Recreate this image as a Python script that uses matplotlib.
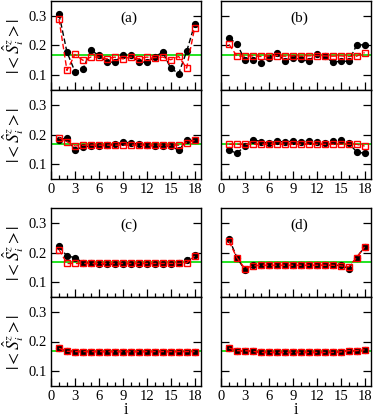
import matplotlib
matplotlib.use("Agg")
import matplotlib.pyplot as plt
from matplotlib.ticker import MultipleLocator

plt.rcParams['font.family'] = ['Liberation Serif', 'DejaVu Serif']
plt.rcParams['mathtext.fontset'] = 'stix'

# site index
sites = list(range(1, 19))
mean_value = 1.0 / 6.0

# panel (a)
a_top_black = [0.306, 0.178, 0.112, 0.120, 0.184, 0.167, 0.144, 0.144, 0.169,
               0.169, 0.144, 0.144, 0.161, 0.178, 0.124, 0.105, 0.180, 0.271]
a_top_red = [0.289, 0.116, 0.170, 0.150, 0.161, 0.161, 0.155, 0.161, 0.155,
             0.161, 0.155, 0.161, 0.159, 0.161, 0.152, 0.163, 0.124, 0.259]
a_low_black = [0.181, 0.189, 0.147, 0.159, 0.161, 0.161, 0.164, 0.167, 0.174,
               0.172, 0.167, 0.164, 0.161, 0.161, 0.161, 0.147, 0.180, 0.180]
a_low_red = [0.189, 0.176, 0.161, 0.164, 0.164, 0.164, 0.164, 0.164, 0.164,
             0.164, 0.164, 0.164, 0.164, 0.164, 0.164, 0.164, 0.172, 0.180]

# panel (b)
b_top_black = [0.225, 0.206, 0.150, 0.150, 0.142, 0.159, 0.176, 0.147, 0.159,
               0.153, 0.147, 0.172, 0.163, 0.144, 0.147, 0.147, 0.201, 0.203]
b_top_red = [0.204, 0.164, 0.164, 0.165, 0.163, 0.165, 0.166, 0.164, 0.165,
             0.164, 0.165, 0.166, 0.165, 0.164, 0.165, 0.163, 0.164, 0.176]
b_low_black = [0.147, 0.137, 0.161, 0.183, 0.176, 0.170, 0.178, 0.174, 0.178,
               0.174, 0.178, 0.176, 0.170, 0.178, 0.180, 0.170, 0.142, 0.136]
b_low_red = [0.167, 0.167, 0.167, 0.167, 0.167, 0.167, 0.167, 0.167, 0.167,
             0.167, 0.167, 0.167, 0.167, 0.167, 0.167, 0.167, 0.167, 0.161]

# panel (c)
c_top_black = [0.221, 0.188, 0.183, 0.166, 0.163, 0.161, 0.161, 0.161, 0.161,
               0.161, 0.161, 0.161, 0.161, 0.161, 0.161, 0.163, 0.176, 0.190]
c_top_red = [0.210, 0.163, 0.163, 0.163, 0.163, 0.163, 0.163, 0.163, 0.163,
             0.163, 0.163, 0.163, 0.163, 0.163, 0.163, 0.163, 0.165, 0.188]
c_low_black = [0.177, 0.167, 0.166, 0.166, 0.166, 0.166, 0.166, 0.166, 0.166,
               0.166, 0.166, 0.166, 0.166, 0.166, 0.166, 0.166, 0.166, 0.166]
c_low_red = [0.177, 0.167, 0.166, 0.166, 0.166, 0.166, 0.166, 0.166, 0.166,
             0.166, 0.166, 0.166, 0.166, 0.166, 0.166, 0.166, 0.166, 0.166]

# panel (d)
d_top_black = [0.247, 0.183, 0.140, 0.157, 0.157, 0.157, 0.157, 0.157, 0.157,
               0.157, 0.157, 0.157, 0.157, 0.157, 0.157, 0.146, 0.183, 0.219]
d_top_red = [0.238, 0.182, 0.146, 0.155, 0.157, 0.157, 0.157, 0.157, 0.157,
             0.157, 0.157, 0.157, 0.157, 0.157, 0.155, 0.152, 0.183, 0.219]
d_low_black = [0.178, 0.169, 0.169, 0.167, 0.163, 0.163, 0.163, 0.163, 0.163,
               0.163, 0.163, 0.163, 0.163, 0.163, 0.165, 0.169, 0.169, 0.172]
d_low_red = [0.178, 0.169, 0.169, 0.167, 0.163, 0.163, 0.163, 0.163, 0.163,
             0.163, 0.163, 0.163, 0.163, 0.163, 0.165, 0.169, 0.169, 0.172]

W, H = 373, 417
fig = plt.figure(figsize=(W / 100, H / 100), dpi=100)

col_left = [51, 221]
col_width = 150
row_top = [1, 90, 208, 297]
row_height = 89

panels = [
    (0, 0, a_top_black, a_top_red, '(a)', False),
    (0, 1, a_low_black, a_low_red, None, True),
    (1, 0, b_top_black, b_top_red, '(b)', False),
    (1, 1, b_low_black, b_low_red, None, True),
    (0, 2, c_top_black, c_top_red, '(c)', False),
    (0, 3, c_low_black, c_low_red, None, True),
    (1, 2, d_top_black, d_top_red, '(d)', False),
    (1, 3, d_low_black, d_low_red, None, True),
]

ylabel = r'$|{<}\hat{S}^z_i{>}|$'

for col, row, black, red, tag, bottom in panels:
    x0 = col_left[col] / W
    y0 = 1 - (row_top[row] + row_height) / H
    ax = fig.add_axes([x0, y0, col_width / W, row_height / H])
    ax.axhline(mean_value, color='#10e010', lw=1.3, zorder=1)
    ax.plot(sites, black, 'o', ls=(0, (4, 2)), color='black', ms=4.2,
            lw=1.0, zorder=2)
    ax.plot(sites, red, 's', ls=(0, (4, 2)), color='red', mfc='none',
            ms=5.0, mew=1.0, lw=1.0, zorder=3)
    ax.set_xlim(0, 18.8)
    ax.set_ylim(0.05, 0.35)
    ax.xaxis.set_major_locator(MultipleLocator(3))
    ax.xaxis.set_minor_locator(MultipleLocator(1))
    ax.set_yticks([0.1, 0.2, 0.3])
    ax.tick_params(which='major', direction='in', length=6, width=0.9,
                   right=True, top=False, labelsize=10.5, pad=3)
    ax.tick_params(which='minor', direction='in', length=3, width=0.9,
                   right=True, top=False)
    for s in ax.spines.values():
        s.set_linewidth(1.0)
    if not bottom:
        ax.tick_params(labelbottom=False)
    if col == 1:
        ax.tick_params(labelleft=False)
    else:
        ax.set_ylabel(ylabel, fontsize=12.5, labelpad=2)
    if tag:
        ax.text(0.52, 0.81, tag, transform=ax.transAxes, ha='center',
                va='center', fontsize=11)
    if row == 3:
        # x label placed by hand so it stays inside the small canvas
        fig.text(x0 + col_width / W / 2, 3 / H, 'i', ha='center',
                 va='baseline', fontsize=11.5)

fig.savefig('out.png', dpi=100)
